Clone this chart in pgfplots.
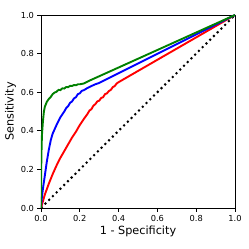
\documentclass[border=0pt]{standalone}
\usepackage{pgfplots}
\pgfplotsset{compat=1.18}
\usepackage{fontspec}
\setmainfont{DejaVu Sans}
\begin{document}
\begin{tikzpicture}
\useasboundingbox (-41bp,-41bp) rectangle (208bp,208bp);
\begin{axis}[
  at={(0,0)}, anchor=south west,
  scale only axis, width=194bp, height=193bp,
  xmin=0, xmax=1, ymin=0, ymax=1,
  xtick={0,0.2,...,1.0}, ytick={0,0.2,...,1.0},
  tick align=outside, tick pos=left,
  major tick length=3.5bp,
  every tick/.style={black, line width=0.8pt},
  axis line style={black, line width=0.8pt},
  /pgf/number format/assume math mode=true,
  /pgf/number format/.cd, fixed, fixed zerofill, precision=1, /pgfplots/.cd,
  tick label style={font=\fontsize{8.3}{10}\selectfont},
  xlabel={1 - Specificity}, ylabel={Sensitivity},
  label style={font=\fontsize{11.3}{13}\selectfont},
  xlabel style={yshift=2.5bp},
  ylabel style={yshift=-2bp},
]
\addplot[black, line width=2pt, dash pattern=on 2pt off 3.3pt] coordinates {(0,0) (1,1)};
\addplot[red, line width=1.9pt] coordinates {
(0,0) (0.01,0.035) (0.02,0.07) (0.04,0.125) (0.06,0.175) (0.08,0.22) (0.10,0.26)
(0.12,0.295) (0.14,0.33) (0.16,0.365) (0.18,0.395) (0.20,0.43) (0.22,0.46)
(0.24,0.488) (0.25,0.505) (0.26,0.512) (0.27,0.53) (0.28,0.538) (0.29,0.552) (0.30,0.556)
(0.31,0.57) (0.32,0.574) (0.33,0.59) (0.34,0.594) (0.35,0.606) (0.36,0.612)
(0.37,0.626) (0.38,0.632) (0.39,0.645) (0.40,0.652) (1,1)};
\addplot[blue, line width=1.9pt] coordinates {
(0,0) (0.005,0.06) (0.01,0.1) (0.02,0.17) (0.03,0.24) (0.04,0.3) (0.05,0.35)
(0.06,0.385) (0.08,0.43) (0.10,0.47) (0.12,0.50) (0.13,0.518) (0.14,0.528) (0.15,0.545)
(0.16,0.552) (0.17,0.568) (0.18,0.574) (0.19,0.59) (0.20,0.594) (0.21,0.607) (0.22,0.61)
(0.24,0.622) (0.26,0.632) (0.28,0.641) (0.30,0.648) (1,1)};
\addplot[green!50!black, line width=1.9pt] coordinates {
(0,0) (0.001,0.18) (0.002,0.27) (0.005,0.38) (0.01,0.45) (0.015,0.5) (0.02,0.525)
(0.03,0.55) (0.04,0.565) (0.05,0.575) (0.06,0.59) (0.07,0.598) (0.08,0.602) (0.09,0.612)
(0.10,0.611) (0.11,0.62) (0.12,0.619) (0.13,0.627) (0.14,0.626) (0.15,0.633)
(0.16,0.632) (0.17,0.637) (0.18,0.636) (0.19,0.641) (0.20,0.641) (0.22,0.645)
(0.25,0.66) (1,1)};
\end{axis}
\end{tikzpicture}
\end{document}
